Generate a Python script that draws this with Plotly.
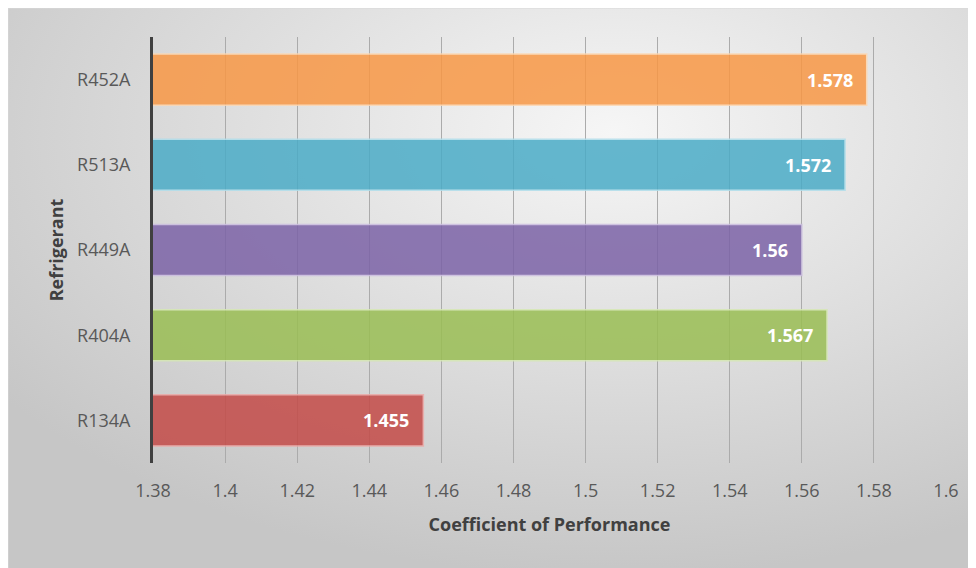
import base64

import plotly.graph_objs as go

# data, bottom to top as drawn
refrigerants = ["R134A", "R404A", "R449A", "R513A", "R452A"]
cop = [1.455, 1.567, 1.56, 1.572, 1.578]
bar_colors = ["#C44B48", "#9ABE54", "#7C63A7", "#4BACC7", "#F89846"]
edge_colors = ["#EBA9A7", "#D6E8B4", "#CBBDE0", "#B0DEEB", "#FDD6B0"]
x_ticks = [1.38, 1.4, 1.42, 1.44, 1.46, 1.48, 1.5, 1.52, 1.54, 1.56, 1.58, 1.6]

FONT = "Open Sans, Liberation Sans, sans-serif"

# soft radial gradient used as the chart background
svg = (
    '<svg xmlns="http://www.w3.org/2000/svg" width="976" height="568">'
    '<defs><radialGradient id="g" cx="62%" cy="22%" r="78%">'
    '<stop offset="0%" stop-color="#f6f6f6"/>'
    '<stop offset="100%" stop-color="#c6c6c6"/>'
    "</radialGradient></defs>"
    '<rect width="976" height="568" fill="url(#g)"/></svg>'
)
bg_src = "data:image/svg+xml;base64," + base64.b64encode(svg.encode()).decode()

fig = go.Figure(
    go.Bar(
        x=cop,
        y=refrigerants,
        orientation="h",
        marker=dict(color=bar_colors, line=dict(color=edge_colors, width=1.5)),
        opacity=0.85,
        width=0.6,
        hoverinfo="x+y",
    )
)

# value labels inside the bar ends
for name, val in zip(refrigerants, cop):
    fig.add_annotation(
        x=val,
        y=name,
        text=f"<b>{val:g}</b>",
        showarrow=False,
        xanchor="right",
        xshift=-12,
        font=dict(family=FONT, size=18, color="white"),
    )

fig.update_layout(
    width=976,
    height=568,
    margin=dict(l=145, r=38, t=29, b=113),
    paper_bgcolor="white",
    plot_bgcolor="rgba(0,0,0,0)",
    font=dict(family=FONT, size=18, color="#595959"),
    showlegend=False,
    images=[
        dict(
            source=bg_src,
            xref="paper",
            yref="paper",
            x=-0.1829,
            y=1.0681,
            sizex=1.2308,
            sizey=1.3333,
            sizing="stretch",
            xanchor="left",
            yanchor="top",
            layer="below",
        )
    ],
    shapes=[
        dict(
            type="rect",
            xref="paper",
            yref="paper",
            x0=-0.1829,
            x1=1.047,
            y0=-0.2653,
            y1=1.0681,
            line=dict(color="#d9d9d9", width=1),
            layer="below",
        )
    ],
)

fig.update_xaxes(
    range=[1.38, 1.6],
    tickvals=x_ticks,
    ticktext=[f"{t:g}" for t in x_ticks],
    showgrid=True,
    gridcolor="#ababab",
    gridwidth=1,
    zeroline=False,
    showline=False,
    ticks="",
    ticklabelstandoff=15,
    tickfont=dict(size=18, color="#595959"),
    title=dict(
        text="<b>Coefficient of Performance</b>",
        font=dict(size=18, color="#404040"),
        standoff=17,
    ),
)

fig.update_yaxes(
    showline=True,
    linecolor="#404040",
    linewidth=3,
    showgrid=False,
    ticks="",
    ticklabelstandoff=16,
    tickfont=dict(size=18, color="#595959"),
    title=dict(
        text="<b>Refrigerant</b>",
        font=dict(size=18, color="#404040"),
        standoff=9,
    ),
)

fig.write_html("out.html")
